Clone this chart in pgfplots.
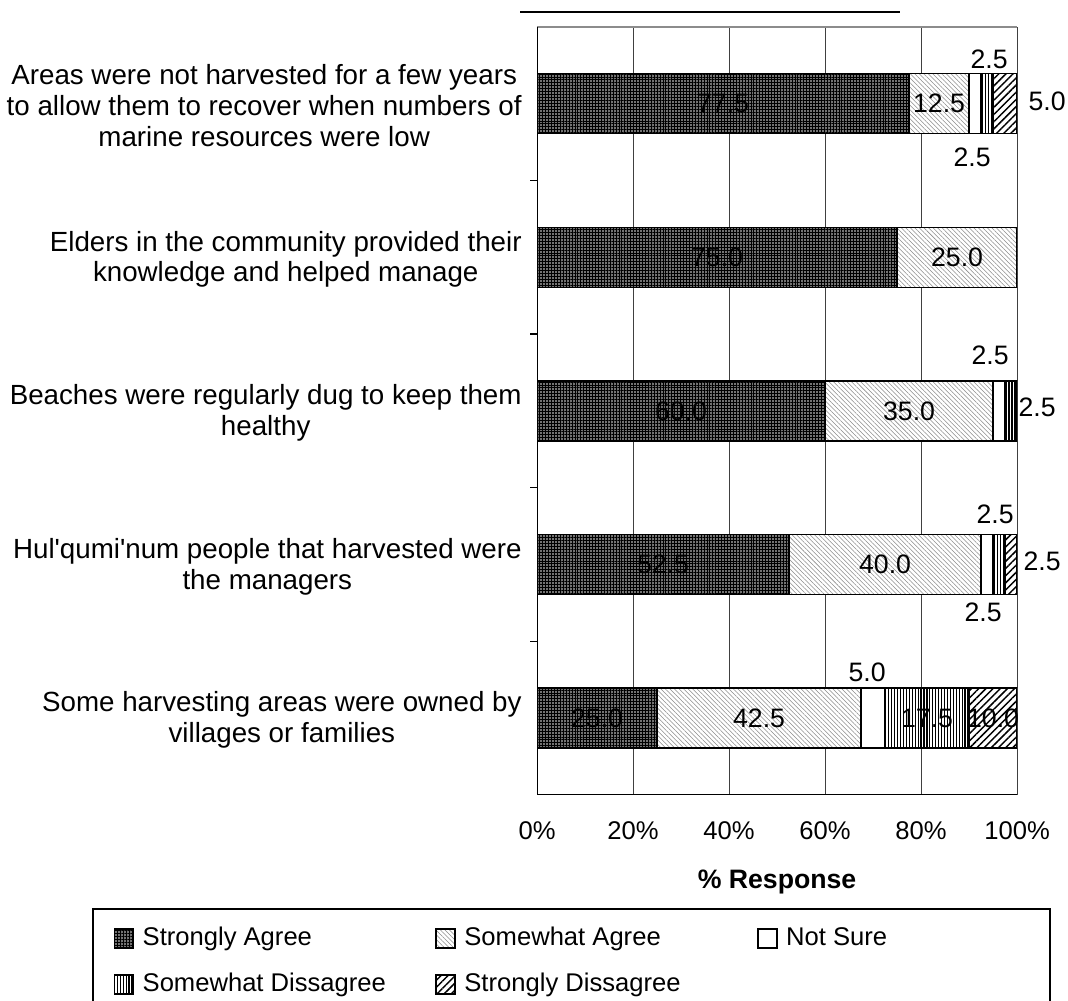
\documentclass[border=0pt]{standalone}
\usepackage{fontspec}
\setmainfont{Liberation Sans}
\usepackage{pgfplots}
\usepackage{pgfplotstable}
\pgfplotsset{compat=1.18}
\usetikzlibrary{patterns.meta}

\newcommand\catfont{\fontsize{10.4}{11.6}\selectfont}
\newcommand\valfont{\fontsize{10}{11}\selectfont}
\newcommand\legfont{\fontsize{9.6}{11}\selectfont}
\newcommand\tickfont{\fontsize{9.6}{11}\selectfont}

% y: row (4 = top statement), val: % response, show: print the value,
% dx/dy: offset of the value label from the segment centre (units of 0.375pt)
\pgfplotstableread{
y val show dx dy
4 77.5 1 0 0
3 75.0 1 0 0
2 60.0 1 0 0
1 52.5 1 0 0
0 25.0 1 0 0
}\stronglyagree
\pgfplotstableread{
y val show dx dy
4 12.5 1 0 0
3 25.0 1 0 0
2 35.0 1 0 0
1 40.0 1 0 0
0 42.5 1 0 0
}\somewhatagree
\pgfplotstableread{
y val show dx dy
4 2.5 1 14 -44
3 0.0 0 0 0
2 2.5 1 -9 -56
1 2.5 1 8 -50
0 5.0 1 -6 -46
}\notsure
\pgfplotstableread{
y val show dx dy
4 2.5 1 -15 54
3 0.0 0 0 0
2 2.5 1 26 -4
1 2.5 1 -16 48
0 17.5 1 0 0
}\somewhatdisagree
\pgfplotstableread{
y val show dx dy
4 5.0 1 42 -2
3 0.0 0 0 0
2 0.0 0 0 0
1 2.5 1 31 -3
0 10.0 1 0 0
}\stronglydisagree

\pgfplotsset{
  sa/.style={fill=black!55, postaction={pattern={Hatch[distance=1.1pt, line width=0.3pt]}, pattern color=black}},
  swa/.style={fill=white, postaction={pattern={Lines[angle=-45, distance=1.2pt, line width=0.2pt]}, pattern color=black!45}},
  ns/.style={fill=white},
  swd/.style={fill=white, postaction={pattern={Lines[angle=90, distance=1.1pt, line width=0.45pt]}, pattern color=black}},
  sd/.style={fill=white, postaction={pattern={Lines[angle=45, distance=1.9pt, line width=0.55pt]}, pattern color=black}},
}

\begin{document}
\begin{tikzpicture}
\useasboundingbox (-201.4pt,-77.25pt) rectangle (199.1pt,298.1pt);
\begin{axis}[
  scale only axis,
  width=180pt, height=288pt,
  xbar stacked,
  bar width=22.5pt,
  xmin=0, xmax=100,
  ymin=-0.5, ymax=4.5,
  axis line style={draw=none},
  xtick={0,20,40,60,80,100},
  xticklabels={0\%,20\%,40\%,60\%,80\%,100\%},
  xticklabel style={font=\tickfont, inner sep=0pt, anchor=north, yshift=-9.8pt},
  xtick style={draw=none},
  xtick pos=bottom,
  ytick pos=left,
  xmajorgrids,
  grid style={black!75, line width=0.4pt},
  ytick={0,1,2,3,4},
  yticklabels={
    {Some harvesting areas were owned by\\villages or families},
    {Hul\textquotesingle qumi\textquotesingle num people that harvested were\\the managers},
    {Beaches were regularly dug to keep them\\healthy},
    {Elders in the community provided their\\knowledge and helped manage},
    {Areas were not harvested for a few years\\to allow them to recover when numbers of\\marine resources were low}},
  yticklabel style={font=\catfont, align=center, inner sep=0pt, anchor=east, xshift=-5.6pt, yshift=-0.75pt},
  major tick length=0pt,
  minor ytick={0.5,1.5,2.5,3.5},
  minor tick length=2.6pt,
  tick align=outside,
  minor tick style={black, line width=0.5pt},
  xlabel={\% Response},
  xlabel style={font=\fontsize{10}{11}\selectfont\bfseries, at={(axis description cs:0.5,0)}, anchor=center, yshift=-32.5pt},
  legend image code/.code={\draw[#1, line width=0.6pt] (0pt,-3.55pt) rectangle (7.1pt,3.55pt);},
  legend columns=3,
  legend cell align=left,
  legend style={draw=none, fill=none, font=\legfont, at={(axis description cs:-0.8833,-0.2168)}, anchor=west,
    inner sep=0pt, row sep=6.8pt, nodes={inner sep=1pt},
    /tikz/every odd column/.append style={column sep=2.2pt}},
  every axis plot/.append style={draw=black, line width=0.5pt},
  visualization depends on={\thisrow{val}\as\segval},
  visualization depends on={\thisrow{show}\as\segshow},
  visualization depends on={\thisrow{dx}\as\segdx},
  visualization depends on={\thisrow{dy}\as\segdy},
  nodes near coords={\ifdim\segshow pt>0.5pt \pgfmathprintnumber[fixed,fixed zerofill,precision=1,assume math mode=true]{\segval}\fi},
  every node near coord/.append style={font=\valfont, anchor=center, inner sep=0pt,
    xshift={0.375pt*(\segdx)}, yshift={-0.375pt*(\segdy)}},
]
\addplot[sa]  table[x=val, y=y] {\stronglyagree};
\addplot[swa] table[x=val, y=y] {\somewhatagree};
\addplot[ns]  table[x=val, y=y] {\notsure};
\addplot[swd] table[x=val, y=y] {\somewhatdisagree};
\addplot[sd]  table[x=val, y=y] {\stronglydisagree};
\addlegendentry{\makebox[108.75pt][l]{Strongly Agree}}
\addlegendentry{\makebox[108.75pt][l]{Somewhat Agree}}
\addlegendentry{Not Sure}
\addlegendentry{\makebox[108.75pt][l]{Somewhat Dissagree}}
\addlegendentry{\makebox[108.75pt][l]{Strongly Dissagree}}
% frame: heavy left axis, bottom axis, light top edge
\draw[black, line width=0.8pt] (rel axis cs:0,0) -- (rel axis cs:0,1);
\draw[black, line width=0.5pt] (rel axis cs:0,0) -- (rel axis cs:1,0);
\draw[black!45, line width=0.5pt] (rel axis cs:0,1) -- (rel axis cs:1,1);
\end{axis}
% rule above the plot and the legend frame
\draw[black, line width=0.5pt] (-6.4pt,293.6pt) -- (136.1pt,293.6pt);
\draw[black, line width=0.5pt] (-166.5pt,-80pt) -- (-166.5pt,-42.75pt) -- (192.4pt,-42.75pt) -- (192.4pt,-80pt);
\end{tikzpicture}
\end{document}
